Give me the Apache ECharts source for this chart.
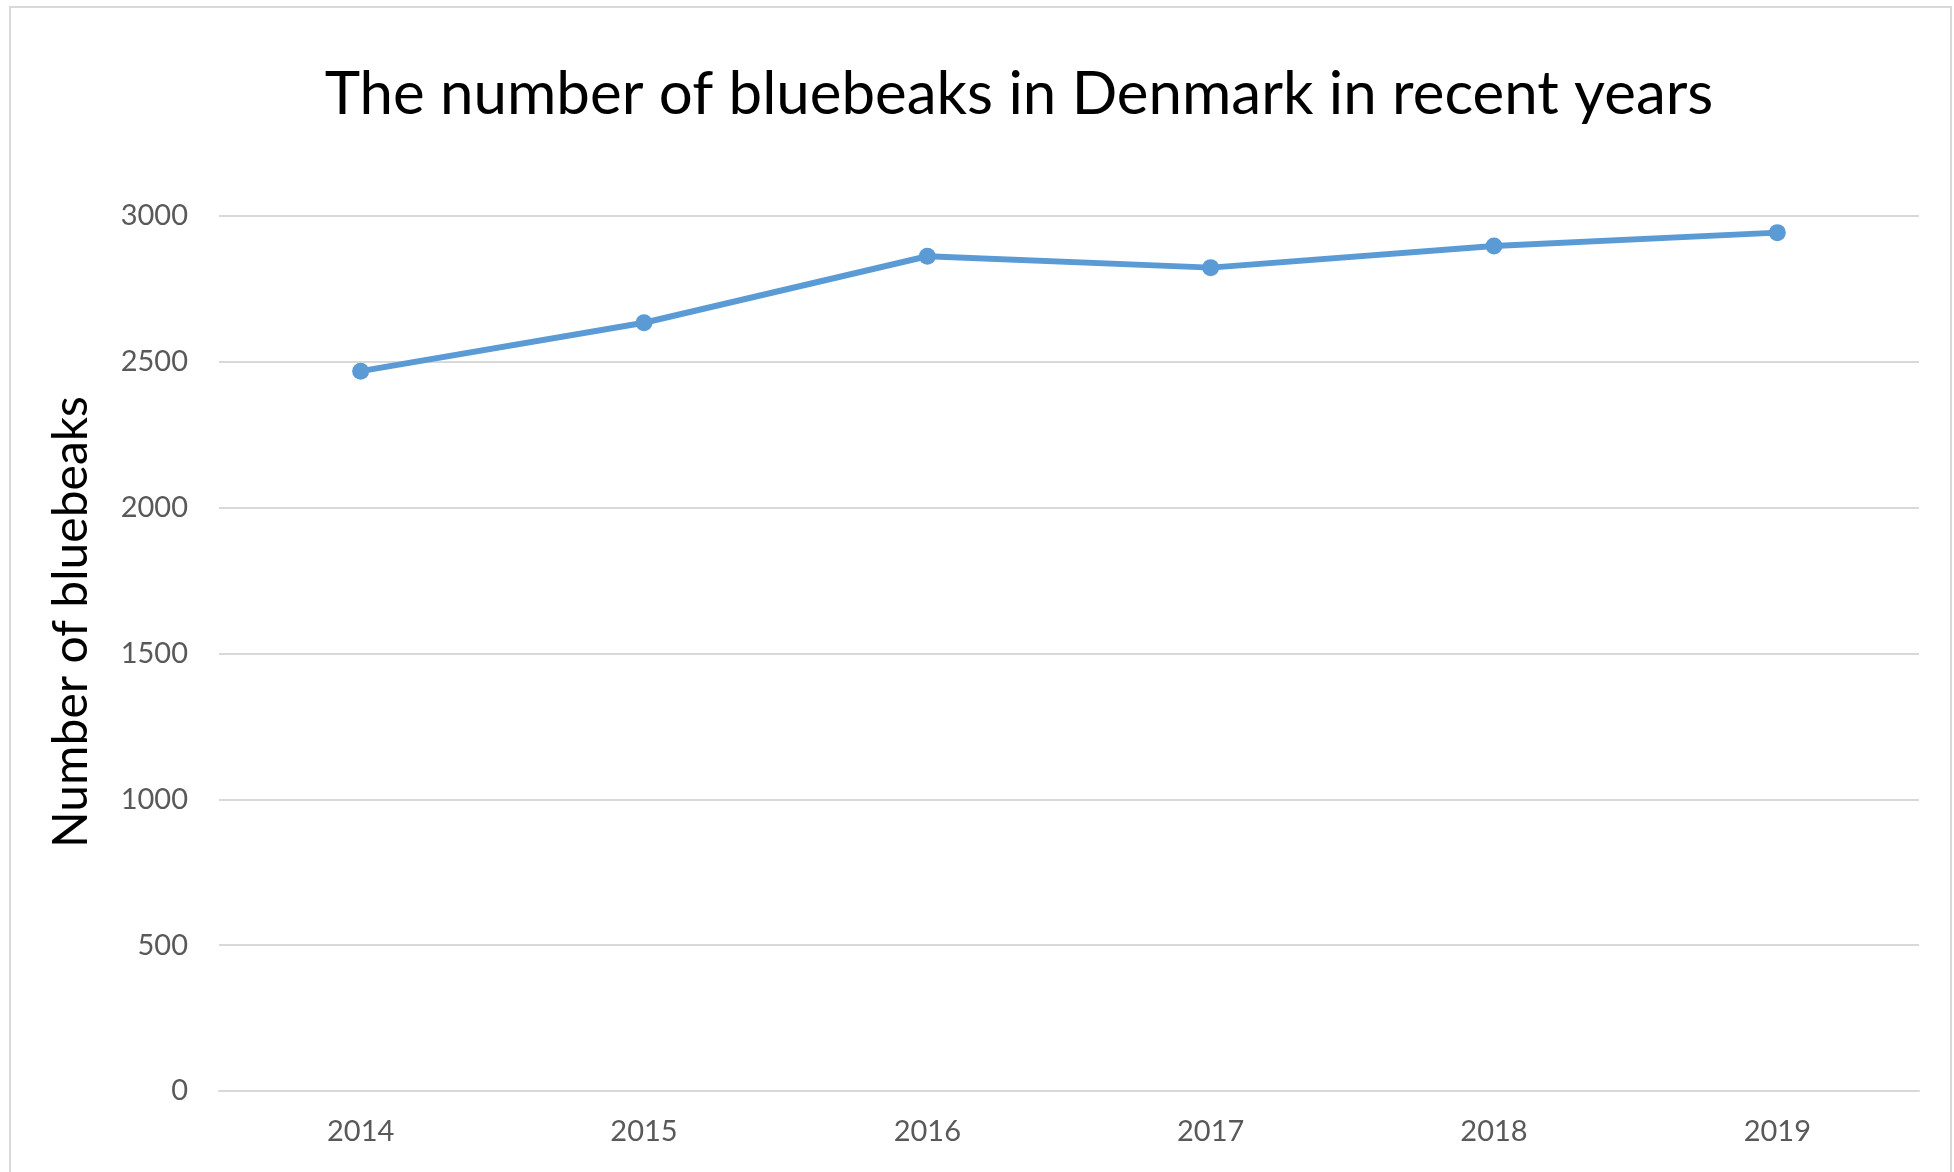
<!DOCTYPE html>
<html>
<head>
<meta charset="utf-8">
<script src="https://cdn.jsdelivr.net/npm/echarts@6/dist/echarts.min.js"></script>
<style>
  html, body { margin: 0; padding: 0; background: #ffffff; }
  #chart { width: 1954px; height: 1172px; }
</style>
</head>
<body>
<div id="chart"></div>
<script>
// Yearly bluebeak counts
const years = ['2014', '2015', '2016', '2017', '2018', '2019'];
const bluebeaks = [2468, 2634, 2862, 2823, 2897, 2943];
const yTicks = { min: 0, max: 3000, step: 500 };

const chart = echarts.init(document.getElementById('chart'));
const FONT = 'Lato';
const LABEL_GREY = '#595959';
const GRID_GREY = '#D9D9D9';
const BLUE = '#5B9BD5';

chart.setOption({
  backgroundColor: '#ffffff',
  animation: false,
  graphic: [{
    type: 'rect',
    shape: { x: 10, y: 7, width: 1941, height: 1180 },
    style: { fill: 'none', stroke: GRID_GREY, lineWidth: 2 },
    silent: true
  }, {
    // vertical axis title
    type: 'text',
    x: 72,
    y: 622,
    rotation: Math.PI / 2,
    style: {
      text: 'Number of bluebeaks',
      fontFamily: FONT,
      fontSize: 48,
      fill: '#000000',
      align: 'center',
      verticalAlign: 'middle'
    },
    silent: true
  }],
  title: {
    text: 'The number of bluebeaks in Denmark in recent years',
    left: 1014,
    textAlign: 'center',
    top: 60,
    textStyle: { fontFamily: FONT, fontSize: 60, fontWeight: 'normal', color: '#000000' }
  },
  grid: { left: 219, right: 35, top: 216, bottom: 81, containLabel: false },
  xAxis: {
    type: 'category',
    data: years,
    boundaryGap: true,
    axisLine: { show: true, lineStyle: { color: GRID_GREY, width: 2 } },
    axisTick: { show: false },
    axisLabel: { color: LABEL_GREY, fontFamily: FONT, fontSize: 29, margin: 26 }
  },
  yAxis: {
    type: 'value',
    min: yTicks.min,
    max: yTicks.max,
    interval: yTicks.step,
    axisLine: { show: false },
    axisTick: { show: false },
    splitLine: { lineStyle: { color: GRID_GREY, width: 2 } },
    axisLabel: {
      color: LABEL_GREY, fontFamily: FONT, fontSize: 29, margin: 31,
      formatter: (v) => String(v)
    }
  },
  series: [{
    type: 'line',
    data: bluebeaks,
    symbol: 'circle',
    symbolSize: 17,
    lineStyle: { color: BLUE, width: 6 },
    itemStyle: { color: BLUE }
  }]
});
</script>
</body>
</html>
